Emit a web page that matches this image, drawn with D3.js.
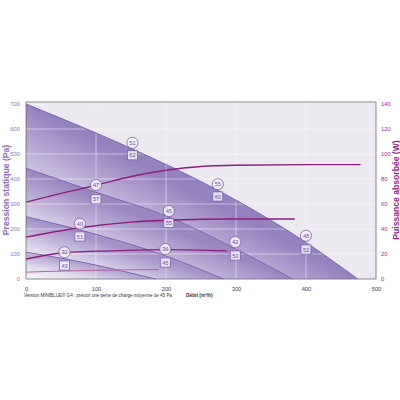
<!DOCTYPE html>
<html><head><meta charset="utf-8">
<script src="https://cdn.jsdelivr.net/npm/d3@7"></script>
<style>body{margin:0;background:#fff}svg{display:block}text{font-family:"Liberation Sans",Arial,sans-serif}</style>
</head><body>
<svg id="c" width="400" height="400"></svg>
<script>
// ---- data ----
const flowTicks = [0, 100, 200, 300, 400, 500];
const pressureTicks = [0, 100, 200, 300, 400, 500, 600, 700];
const powerTicks = [0, 20, 40, 60, 80, 100, 120, 140];
// fan curves: [flow m3/h, pressure Pa]
const fan1 = [[0,700],[152,520],[274,355],[400,146],[474,0]];
const fan2 = [[0,443],[100,347],[204,248],[299,121],[381,0]];
const fan3 = [[0,249],[77,196],[199,93],[282,0]];
const fan4 = [[0,107],[55,81],[185,0]];
// power curves: [flow m3/h, power W]
const pow1 = [[0,61.5],[50,68.5],[100,75],[150,82],[200,87],[250,90],[300,91],[400,91.5],[478,91.5]];
const pow2 = [[0,33.5],[77,41],[150,45.5],[200,47],[300,48],[384,48]];
const pow3 = [[0,16],[55,21],[120,22.5],[200,23.5],[287,22.5]];
const pow4 = [[0,5.5],[100,7],[190,7.5]];
// labels
const labelFlow = [152, 100, 77, 274, 204, 199, 299, 400, 55];
const circlePa = [545, 376, 221, 379, 272, 120, 148, 173, 107];
const circleText = ["51","47","40","55","45","36","42","48","32"];
const squarePa = [495, 319, 170, 330, 224, 66, 94, 118, 54];
const squareText = ["62","57","51","60","55","45","50","52","43"];

// ---- layout ----
const svg = d3.select("#c");
const L = 26, R = 376, T = 104, B = 279;
const x = d3.scaleLinear().domain([0, 500]).range([L, R]);
const y = d3.scaleLinear().domain([0, 700]).range([B, T]);
const y2 = d3.scaleLinear().domain([0, 140]).range([B, T]);

const defs = svg.append("defs");
const fanColors = ["#9581bf", "#9a87c2", "#a392c7", "#b1a3cf"];
[fan1, fan2, fan3, fan4].forEach((f, i) => {
  const g = defs.append("linearGradient").attr("id", "g" + i)
    .attr("x1", 0).attr("y1", 1).attr("x2", 0.5).attr("y2", 0.5);
  g.append("stop").attr("offset", 0).attr("stop-color", "#f8f6fa");
  g.append("stop").attr("offset", 0.5).attr("stop-color", "#e2dbec");
  g.append("stop").attr("offset", 1).attr("stop-color", fanColors[i]);
});

// background
svg.append("rect").attr("x", L).attr("y", 102).attr("width", R - L).attr("height", B - 102)
  .attr("fill", "#ece9f0");

const area = d3.area().x(d => x(d[0])).y0(y(0)).y1(d => y(d[1])).curve(d3.curveMonotoneX);
const line = d3.line().x(d => x(d[0])).y(d => y(d[1])).curve(d3.curveMonotoneX);
const pline = d3.line().x(d => x(d[0])).y(d => y2(d[1])).curve(d3.curveMonotoneX);

[fan1, fan2, fan3, fan4].forEach((f, i) => {
  svg.append("path").attr("d", area(f)).attr("fill", `url(#g${i})`);
});

// grid
const grid = svg.append("g").attr("stroke", "#ffffff").attr("stroke-opacity", 0.6).attr("stroke-width", 0.8);
flowTicks.slice(1, -1).forEach(v => grid.append("line").attr("x1", x(v)).attr("x2", x(v)).attr("y1", 102).attr("y2", B));
pressureTicks.slice(1).forEach(v => grid.append("line").attr("x1", L).attr("x2", R).attr("y1", y(v)).attr("y2", y(v)));

[fan1, fan2, fan3, fan4].forEach(f => {
  svg.append("path").attr("d", line(f)).attr("fill", "none").attr("stroke", "#7e65ab").attr("stroke-width", 1);
});
[pow1, pow2, pow3, pow4].forEach((p, i) => {
  svg.append("path").attr("d", pline(p)).attr("fill", "none")
    .attr("stroke", i === 3 ? "#b5609f" : "#8e1d7d").attr("stroke-width", i === 3 ? 1 : 1.3);
});

// frame
svg.append("rect").attr("x", L).attr("y", 102).attr("width", R - L).attr("height", B - 102)
  .attr("fill", "none").attr("stroke", "#6d6d72").attr("stroke-width", 0.8);

// labels
labelFlow.forEach((f, i) => {
  const cx = x(f), cy = y(circlePa[i]);
  svg.append("circle").attr("cx", cx).attr("cy", cy).attr("r", 5.6)
    .attr("fill", "#f5f2f9").attr("fill-opacity", 0.85).attr("stroke", "#7a60a8").attr("stroke-width", 0.8);
  svg.append("text").attr("x", cx).attr("y", cy + 2).attr("text-anchor", "middle")
    .attr("font-size", 5.6).attr("fill", "#6a4f9c").text(circleText[i]);
  const sy = y(squarePa[i]);
  svg.append("rect").attr("x", cx - 5).attr("y", sy - 4.6).attr("width", 10).attr("height", 9.2)
    .attr("fill", "#f5f2f9").attr("fill-opacity", 0.85).attr("stroke", "#7a60a8").attr("stroke-width", 0.8);
  svg.append("text").attr("x", cx).attr("y", sy + 2).attr("text-anchor", "middle")
    .attr("font-size", 5.6).attr("fill", "#6a4f9c").text(squareText[i]);
});

// axes
const axL = svg.append("g").attr("transform", `translate(${L},0)`)
  .call(d3.axisLeft(y).tickValues(pressureTicks).tickSize(0).tickPadding(6));
axL.select(".domain").remove();
axL.selectAll("text").attr("font-size", 5.8).attr("fill", "#8a78b2").style("font-family", "Liberation Sans, Arial, sans-serif");

const axR = svg.append("g").attr("transform", `translate(${R},0)`)
  .call(d3.axisRight(y2).tickValues(powerTicks).tickSize(0).tickPadding(5));
axR.select(".domain").remove();
axR.selectAll("text").attr("font-size", 5.8).attr("fill", "#9a2f8a").style("font-family", "Liberation Sans, Arial, sans-serif");

const axB = svg.append("g").attr("transform", `translate(0,${B})`)
  .call(d3.axisBottom(x).tickValues(flowTicks).tickSize(0).tickPadding(8));
axB.select(".domain").remove();
axB.selectAll("text").attr("font-size", 5.8).attr("fill", "#444").style("font-family", "Liberation Sans, Arial, sans-serif");

svg.append("text").attr("transform", "translate(8.5,190) rotate(-90)").attr("text-anchor", "middle")
  .attr("font-size", 8.6).attr("font-weight", "bold").attr("fill", "#8a6cb8").text("Pression statique (Pa)");
svg.append("text").attr("transform", "translate(399,190) rotate(-90)").attr("text-anchor", "middle")
  .attr("font-size", 8.6).attr("font-weight", "bold").attr("fill", "#9a1f88").text("Puissance absorbée (W)");

svg.append("text").attr("x", 24).attr("y", 297).attr("font-size", 4.6).attr("fill", "#333")
  .attr("textLength", 148).attr("lengthAdjust", "spacingAndGlyphs")
  .text("Version MINIBLUE® G4 : prévoir une perte de charge moyenne de 45 Pa");
svg.append("text").attr("x", 186).attr("y", 297).attr("font-size", 4.8).attr("font-weight", "bold").attr("fill", "#333")
  .text("Débit (m³/h)");
</script>
</body></html>
